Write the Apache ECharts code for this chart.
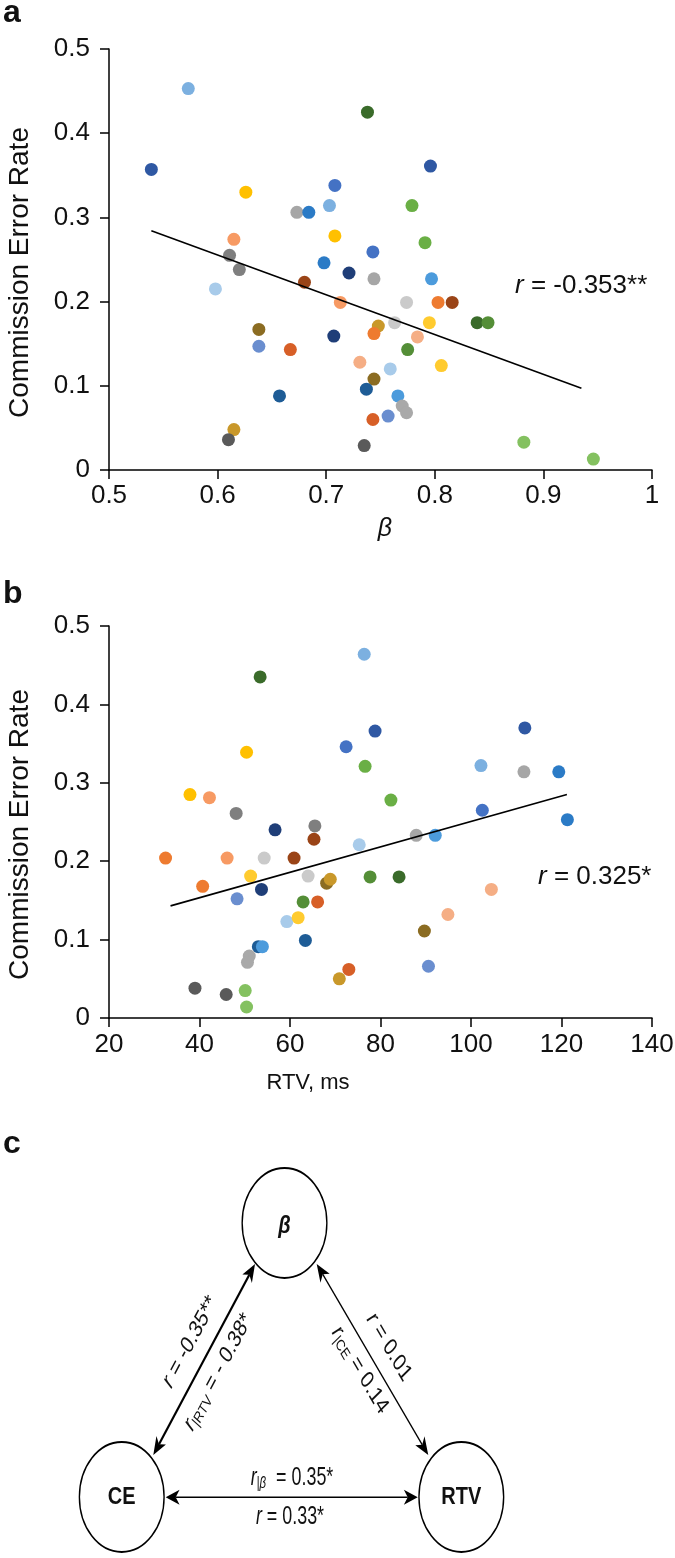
<!DOCTYPE html>
<html><head><meta charset="utf-8">
<script src="https://cdn.jsdelivr.net/npm/echarts@6/dist/echarts.min.js"></script>
<style>html,body{margin:0;padding:0;background:#fff}#c{width:675px;height:1558px}</style>
</head><body><div id="c"></div>
<script>
// ---------- DATA ----------
// each subject contributes two points (same colour)
const pointSubject = [0,0,1,1,2,2,3,3,4,4,5,5,6,6,7,7,8,8,9,9,10,10,11,11,12,12,13,13,
  14,14,15,15,16,16,17,17,18,18,19,19,20,20,21,21,22,22,23,23,24,24,25,25,26,26];
// panel a: beta vs commission error rate
const betaA = [0.573,0.703, 0.539,0.796, 0.626,0.708, 0.673,0.744, 0.684,0.698,
  0.708,0.743, 0.615,0.713, 0.611,0.620, 0.738,0.839, 0.779,0.791, 0.598,0.759,
  0.680,0.816, 0.638,0.744, 0.638,0.757, 0.667,0.743, 0.707,0.721, 0.657,0.737,
  0.615,0.748, 0.610,0.735, 0.797,0.766, 0.774,0.763, 0.803,0.744, 0.795,0.806,
  0.849,0.775, 0.784,0.731, 0.770,0.774, 0.882,0.946];
const ceA = [0.453,0.314, 0.357,0.361, 0.330,0.278, 0.306,0.227, 0.306,0.246,
  0.338,0.259, 0.274,0.199, 0.255,0.238, 0.425,0.175, 0.314,0.270, 0.215,0.120,
  0.223,0.199, 0.167,0.108, 0.147,0.064, 0.143,0.060, 0.159,0.234, 0.088,0.096,
  0.048,0.171, 0.036,0.029, 0.227,0.088, 0.199,0.175, 0.199,0.162, 0.175,0.124,
  0.175,0.143, 0.158,0.128, 0.076,0.068, 0.033,0.013];
// panel b: RTV (ms) vs commission error rate
const rtvB = [76.4,102.2, 78.8,111.9, 50.4,37.9, 111.7,87.9, 119.4,121.3,
  72.4,102.5, 42.2,46.1, 48.1,65.5, 53.4,84.1, 76.6,82.3, 75.3,59.3,
  65.3,60.9, 68.1,89.7, 48.3,90.6, 66.1,73.0, 53.7,56.7, 53.0,63.4,
  70.9,68.9, 39.0,45.9, 92.1,53.9, 54.3,64.0, 32.5,40.7, 51.3,61.8,
  77.7,62.9, 104.5,94.9, 51.0,50.6, 50.1,50.4];
const ceB = [0.464,0.322, 0.366,0.370, 0.339,0.285, 0.314,0.233, 0.314,0.253,
  0.346,0.265, 0.281,0.204, 0.261,0.245, 0.435,0.180, 0.321,0.278, 0.221,0.123,
  0.228,0.204, 0.172,0.111, 0.152,0.066, 0.148,0.062, 0.164,0.240, 0.091,0.099,
  0.050,0.177, 0.038,0.030, 0.233,0.091, 0.204,0.181, 0.204,0.168, 0.181,0.128,
  0.180,0.148, 0.164,0.132, 0.079,0.071, 0.035,0.014];
// fitted regression lines (end points)
const fitAx = [0.539, 0.935], fitAy = [0.284, 0.097];
const fitBx = [33.6, 121.2],  fitBy = [0.143, 0.285];
const corrA = '-0.353**', corrB = '0.325*';
// axis ticks
const betaTicks = [0.5, 0.6, 0.7, 0.8, 0.9, 1];
const rtvTicks = [20, 40, 60, 80, 100, 120, 140];
const ceTicks = [0, 0.1, 0.2, 0.3, 0.4, 0.5];
// panel c: correlation diagram
const nodeNames = ['β', 'CE', 'RTV'];
const edgeR = ['-0.35**', '0.01', '0.33*'];        // beta-CE, beta-RTV, CE-RTV
const edgePartial = ['- 0.38*', '0.14', '0.35*'];
const partialControl = ['RTV', 'CE', 'β'];

// ---------- STYLE ----------
const palette = ['#7CB0E0','#2F58A3','#FFC000','#A6A6A6','#2B7BC6','#4472C4','#F79A63',
  '#7F7F7F','#3A6B2A','#6AAF45','#A8CBEA','#9A4417','#8B6C22','#6A8ECF','#D75F27',
  '#1F3E78','#1E5C96','#C9982A','#5A5A5A','#4C9BDC','#CACACA','#EE7B30','#FFCB2F',
  '#548E37','#F5AE85','#A9A9A9','#84C160'];
const FONT = '"Liberation Sans", Arial, Helvetica, sans-serif';
const TXT = '#111';

const chart = echarts.init(document.getElementById('c'), null, {renderer: 'canvas'});
const fmt = v => String(Math.round(v * 10) / 10);

function valueAxis(extra) {
  return Object.assign({
    type: 'value',
    axisLine: {show: true, onZero: false, lineStyle: {color: '#000', width: 1.5}},
    axisTick: {show: true, length: 9, lineStyle: {color: '#000', width: 1.5}},
    splitLine: {show: false},
    axisLabel: {fontSize: 26, color: TXT, fontFamily: FONT, formatter: fmt, hideOverlap: false},
    nameMoveOverlap: false
  }, extra);
}

const ptsA = betaA.map((b, i) => [b, ceA[i], pointSubject[i]]);
const ptsB = rtvB.map((r, i) => [r, ceB[i], pointSubject[i]]);

// ---- panel c geometry (drawn in unsquashed space, group squashed horizontally) ----
const SX = 0.77;
const nodePos = [[369.5, 1223], [158.1, 1497], [599.1, 1497]];
const R = 55;
const arrows = [
  {a: [199.1, 1455], b: [331.2, 1264], w: 2.6},
  {a: [411.3, 1264], b: [556.2, 1455], w: 1.6},
  {a: [215.2, 1497.3], b: [542.5, 1497.3], w: 1.6}
];
function headPts(tip, u) {
  const L = 18, W = 7.5, N = 5, n = [-u[1], u[0]];
  const bx = tip[0] - L * u[0], by = tip[1] - L * u[1];
  return [[tip[0], tip[1]], [bx + W * n[0], by + W * n[1]],
          [tip[0] - (L - N) * u[0], tip[1] - (L - N) * u[1]], [bx - W * n[0], by - W * n[1]]];
}
const cChildren = [];
arrows.forEach(ar => {
  const dx = ar.b[0] - ar.a[0], dy = ar.b[1] - ar.a[1], len = Math.hypot(dx, dy);
  const u = [dx / len, dy / len], back = 13;
  cChildren.push({type: 'line', shape: {x1: ar.a[0] + u[0] * back, y1: ar.a[1] + u[1] * back,
      x2: ar.b[0] - u[0] * back, y2: ar.b[1] - u[1] * back}, style: {stroke: '#000', lineWidth: ar.w}});
  cChildren.push({type: 'polygon', shape: {points: headPts(ar.b, u)}, style: {fill: '#000'}});
  cChildren.push({type: 'polygon', shape: {points: headPts(ar.a, [-u[0], -u[1]])}, style: {fill: '#000'}});
});
nodePos.forEach((p, i) => {
  cChildren.push({type: 'circle', shape: {cx: p[0], cy: p[1], r: R},
    style: {fill: '#fff', stroke: '#000', lineWidth: 1.8}});
  cChildren.push({type: 'text', x: p[0], y: p[1] + (i === 0 ? 3 : 0), scaleX: 1.08, style: {
    text: nodeNames[i], fontSize: 24, fontWeight: 'bold', fontStyle: i === 0 ? 'italic' : 'normal',
    fontFamily: FONT, fill: TXT, align: 'center', verticalAlign: 'middle',
    textAlign: 'center', textVerticalAlign: 'middle'}});
});
const richC = {
  i: {fontSize: 25, fontStyle: 'italic', fontFamily: FONT, fill: TXT, lineHeight: 28, verticalAlign: 'middle'},
  n: {fontSize: 25, fontFamily: FONT, fill: TXT, lineHeight: 28, verticalAlign: 'middle'},
  s: {fontSize: 16, fontFamily: FONT, fill: TXT, lineHeight: 13, verticalAlign: 'bottom'},
  si: {fontSize: 16, fontStyle: 'italic', fontFamily: FONT, fill: TXT, lineHeight: 13, verticalAlign: 'bottom'}
};
const rotL = 0.965, rotR = -0.921;
const cLabels = [
  {x: 246.8, y: 1342, rot: rotL, t: '{i|r}{n| = ' + edgeR[0] + '}'},
  {x: 283.1, y: 1372, rot: rotL, t: '{i|r}{s||' + partialControl[0] + '}{n| = ' + edgePartial[0] + '}'},
  {x: 505.2, y: 1347, rot: rotR, t: '{i|r}{n| = ' + edgeR[1] + '}'},
  {x: 467.5, y: 1370, rot: rotR, t: '{i|r}{s||' + partialControl[1] + '}{n| = ' + edgePartial[1] + '}'},
  {x: 379.2, y: 1478, rot: 0, t: '{i|r}{si||' + partialControl[2] + '}{n|  = ' + edgePartial[2] + '}'},
  {x: 376.6, y: 1517, rot: 0, t: '{i|r}{n| = ' + edgeR[2] + '}'}
];
cLabels.forEach(l => cChildren.push({type: 'text', x: l.x, y: l.y, rotation: l.rot, scaleX: 0.93, style: {
  text: l.t, rich: richC, fontSize: 25, fontFamily: FONT, fill: TXT,
  align: 'center', verticalAlign: 'middle', textAlign: 'center', textVerticalAlign: 'middle'}}));

function panelLabel(t, x, y) {
  return {type: 'text', x: x, y: y, style: {text: t, fontSize: 32, fontWeight: 'bold', fontFamily: FONT,
    fill: TXT, verticalAlign: 'middle', textVerticalAlign: 'middle'}};
}
function corrText(v, x, y) {
  return {type: 'text', x: x, y: y, style: {text: '{i|r}{n| = ' + v + '}', fontSize: 26, fontFamily: FONT,
    fill: TXT, align: 'left', verticalAlign: 'middle', textVerticalAlign: 'middle',
    rich: {i: {fontSize: 26, fontStyle: 'italic', fontFamily: FONT, fill: TXT},
           n: {fontSize: 26, fontFamily: FONT, fill: TXT}}}};
}

const option = {
  animation: false,
  backgroundColor: '#fff',
  grid: [
    {left: 109, top: 49, width: 543, height: 421, outerBoundsMode: 'none', containLabel: false},
    {left: 109, top: 626, width: 543, height: 392, outerBoundsMode: 'none', containLabel: false}
  ],
  xAxis: [
    valueAxis({gridIndex: 0, min: betaTicks[0], max: betaTicks[betaTicks.length - 1], interval: 0.1,
      axisLabel: {fontSize: 26, color: TXT, fontFamily: FONT, formatter: fmt, margin: 13, hideOverlap: false},
      name: 'β', nameLocation: 'middle', nameGap: 47,
      nameTextStyle: {fontSize: 25, fontStyle: 'italic', color: TXT, fontFamily: FONT, padding: [0, 0, 0, 9]}}),
    valueAxis({gridIndex: 1, min: rtvTicks[0], max: rtvTicks[rtvTicks.length - 1], interval: 20,
      axisLabel: {fontSize: 26, color: TXT, fontFamily: FONT, margin: 14, hideOverlap: false},
      name: 'RTV, ms', nameLocation: 'middle', nameGap: 54,
      nameTextStyle: {fontSize: 22, color: TXT, fontFamily: FONT, padding: [0, 145, 0, 0]}})
  ],
  yAxis: [
    valueAxis({gridIndex: 0, min: ceTicks[0], max: ceTicks[ceTicks.length - 1], interval: 0.1,
      axisLabel: {fontSize: 26, color: TXT, fontFamily: FONT, formatter: fmt, margin: 19, hideOverlap: false},
      name: 'Commission Error Rate', nameLocation: 'middle', nameRotate: 90, nameGap: 75,
      nameTextStyle: {fontSize: 28, color: TXT, fontFamily: FONT, padding: [0, 26, 0, 0]}}),
    valueAxis({gridIndex: 1, min: ceTicks[0], max: ceTicks[ceTicks.length - 1], interval: 0.1,
      axisLabel: {fontSize: 26, color: TXT, fontFamily: FONT, formatter: fmt, margin: 19, hideOverlap: false},
      name: 'Commission Error Rate', nameLocation: 'middle', nameRotate: 90, nameGap: 75,
      nameTextStyle: {fontSize: 28, color: TXT, fontFamily: FONT, padding: [0, 25, 0, 0]}})
  ],
  series: [
    {type: 'scatter', xAxisIndex: 0, yAxisIndex: 0, data: ptsA, symbolSize: 13,
      itemStyle: {color: p => palette[p.data[2]], opacity: 1}, emphasis: {disabled: true}},
    {type: 'line', xAxisIndex: 0, yAxisIndex: 0, data: fitAx.map((x, i) => [x, fitAy[i]]),
      symbol: 'none', lineStyle: {color: '#000', width: 1.6}, silent: true, z: 3},
    {type: 'scatter', xAxisIndex: 1, yAxisIndex: 1, data: ptsB, symbolSize: 13,
      itemStyle: {color: p => palette[p.data[2]], opacity: 1}, emphasis: {disabled: true}},
    {type: 'line', xAxisIndex: 1, yAxisIndex: 1, data: fitBx.map((x, i) => [x, fitBy[i]]),
      symbol: 'none', lineStyle: {color: '#000', width: 1.6}, silent: true, z: 3}
  ],
  graphic: [
    panelLabel('a', 3, 13),
    panelLabel('b', 3, 594),
    panelLabel('c', 3, 1144),
    corrText(corrA, 515, 286),
    corrText(corrB, 538, 877),
    {type: 'group', x: 0, y: 0, scaleX: SX, scaleY: 1, children: cChildren}
  ]
};
chart.setOption(option);
</script></body></html>
